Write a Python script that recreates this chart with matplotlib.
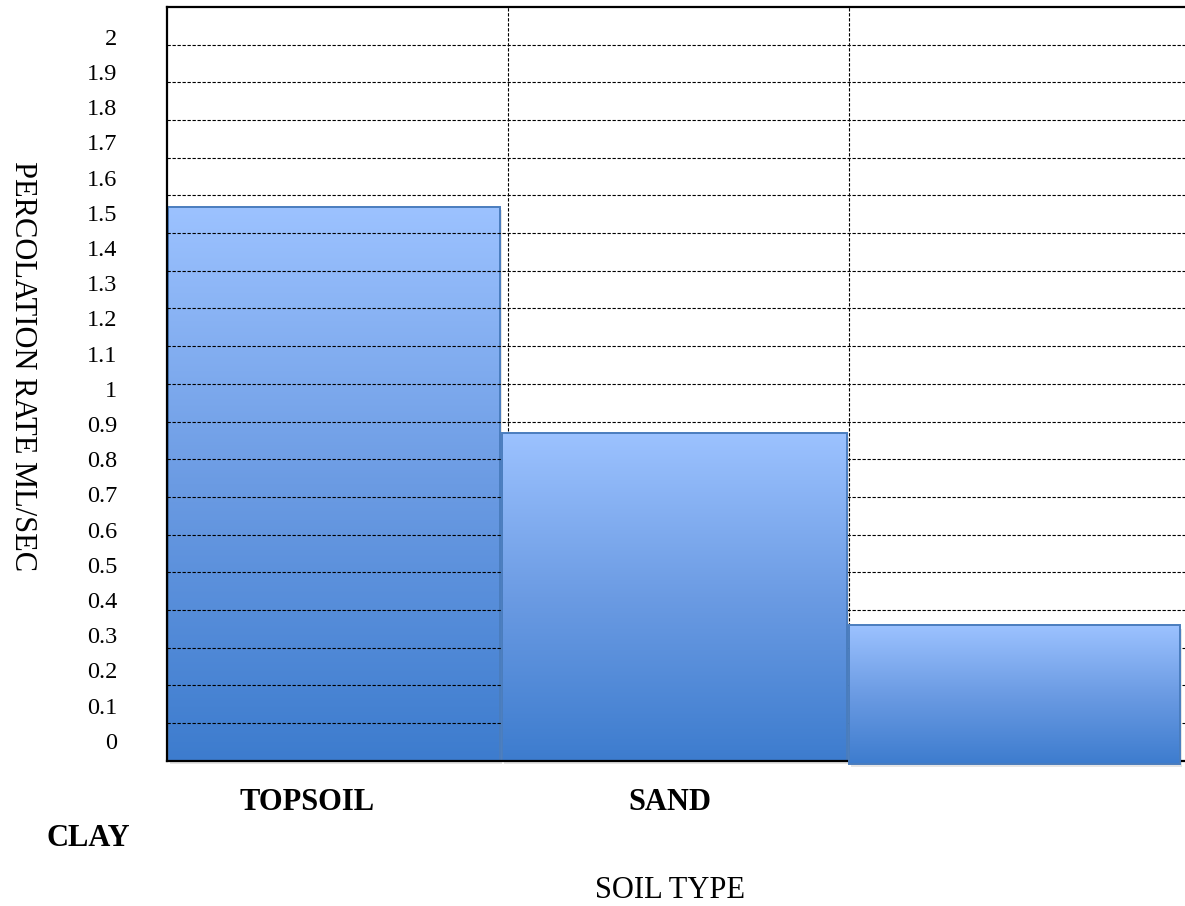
import numpy as np
import matplotlib
matplotlib.use("Agg")
import matplotlib.pyplot as plt
from matplotlib.colors import LinearSegmentedColormap
from matplotlib.patches import Rectangle

# ---- data ----
categories = ["TOPSOIL", "SAND", "CLAY"]
values = [1.47, 0.87, 0.36]
tick_values = [round(0.1 * i, 1) for i in range(21)]
tick_labels = ["0" if v == 0 else ("1" if v == 1 else ("2" if v == 2 else f"{v:g}")) for v in tick_values]

# ---- styling / layout (positions in axis units, not data) ----
bar_left = [0.003, 0.982, 2.0]
bar_width = [0.974, 1.012, 0.97]
bar_bottom = [0.0, 0.0, -0.008]
bar_z = [2.0, 2.2, 2.7]

W, H = 1185, 906
fig = plt.figure(figsize=(W / 100, H / 100), dpi=100)
ax_left_px, ax_right_px, ax_top_px, ax_bot_px = 167, 1190, 7, 760.7
ax = fig.add_axes([ax_left_px / W, (H - ax_bot_px) / H,
                   (ax_right_px - ax_left_px) / W, (ax_bot_px - ax_top_px) / H])

serif = ["Liberation Serif", "DejaVu Serif"]
cmap = LinearSegmentedColormap.from_list("g", ["#3D7CCE", "#6B9BE3", "#9CC2FF"])
grad = np.linspace(0, 1, 256).reshape(-1, 1)

bars = ax.bar(bar_left, [v - b for v, b in zip(values, bar_bottom)], width=bar_width,
              bottom=bar_bottom, align="edge", facecolor="none",
              edgecolor="#4A7DBE", linewidth=1.4)
for rect, z in zip(bars, bar_z):
    x0, y0 = rect.get_x(), rect.get_y()
    w, h = rect.get_width(), rect.get_height()
    rect.set_zorder(z + 0.05)
    rect.set_clip_on(False)
    im = ax.imshow(grad, cmap=cmap, origin="lower", aspect="auto",
                   extent=[x0, x0 + w, y0, y0 + h], zorder=z, interpolation="bilinear")
    im.set_clip_on(False)
    # soft shadow
    sh = Rectangle((x0 + 0.006, y0 - 0.01), w, h, facecolor="#000000", alpha=0.10,
                   edgecolor="none", zorder=z - 0.01, clip_on=False)
    ax.add_patch(sh)

# gridlines
for v in tick_values[1:-1]:
    ax.axhline(v, color="black", linestyle=(0, (3, 1.5)), linewidth=0.8, zorder=2.1)
for xv in [1, 2]:
    ax.axvline(xv, color="black", linestyle=(0, (3, 1.5)), linewidth=0.8, zorder=2.1)

ax.set_xlim(0, 3)
ax.set_ylim(0, 2.0)

# y tick labels (offset from gridlines as in the reference)
label_pos = [(760.7 - 740.8 + 352.05 * v) / 376.85 for v in tick_values]
ax.set_yticks(label_pos)
ax.set_yticklabels(tick_labels, fontfamily=serif, fontsize=17.5)
ax.tick_params(axis="y", length=0, pad=36)
ax.set_xticks([])

for s in ["left", "bottom", "top"]:
    ax.spines[s].set_linewidth(1.6)
    ax.spines[s].set_color("black")
    ax.spines[s].set_zorder(2.5)
ax.spines["right"].set_visible(False)

# category labels
def px(x, y):
    return x / W, 1 - y / H

cat_pos = [(307, 803), (670, 803), (88, 838)]
for name, (xp, yp) in zip(categories, cat_pos):
    fig.text(*px(xp, yp), name, ha="center", va="center", fontfamily=serif,
             fontweight="bold", fontsize=22)

fig.text(*px(670, 890), "SOIL TYPE", ha="center", va="center", fontfamily=serif, fontsize=22)
fig.text(*px(22, 366), "PERCOLATION RATE ML/SEC", ha="center", va="center",
         rotation=-90, fontfamily=serif, fontsize=22)

fig.savefig("out.png", dpi=100)
